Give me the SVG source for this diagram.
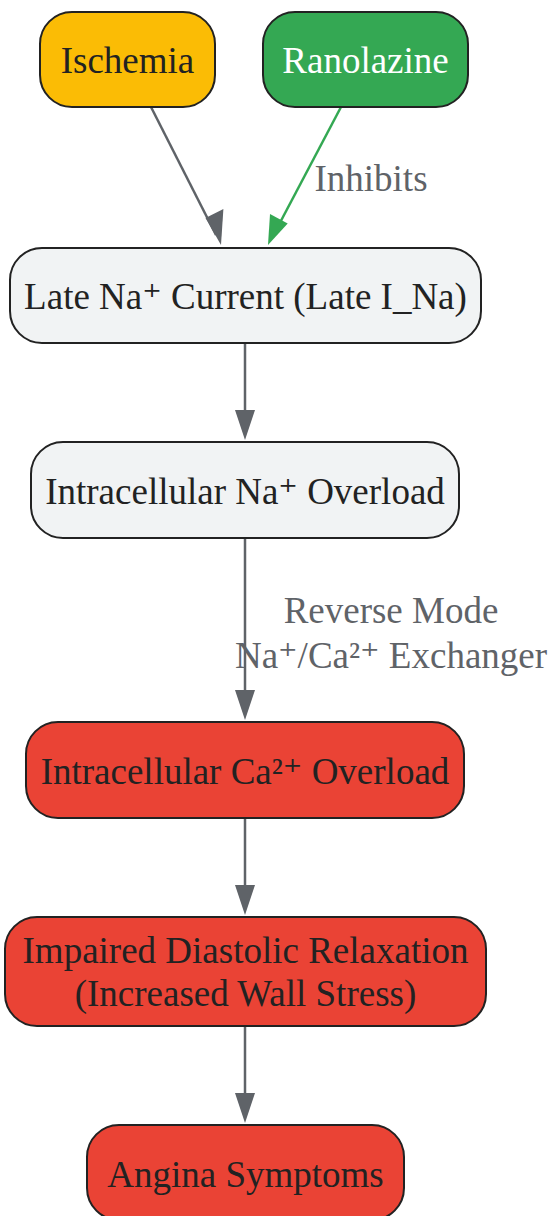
<svg xmlns="http://www.w3.org/2000/svg" width="551" height="1216" viewBox="0 0 551 1216">
<style>
.n rect{stroke:#222222;stroke-width:2}
.t{font-family:"Liberation Serif","DejaVu Serif",serif;font-size:37px;text-anchor:middle;fill:#222222}
.lbl{font-family:"Liberation Serif","DejaVu Serif",serif;font-size:37px;text-anchor:middle;fill:#5f6368}
.e{stroke:#5f6368;stroke-width:2.5;fill:none}
.g{stroke:#34a853}
</style>
<rect width="551" height="1216" fill="#ffffff"/>
<g id="connectors">
<line class="e" x1="151" y1="107" x2="216" y2="235"/>
<path d="M221,245 L205.5,218 L223.4,209 Z" fill="#5f6368"/>
<line class="e g" x1="341" y1="107" x2="274" y2="234"/>
<path d="M268,245 L270,214 L287.7,223.4 Z" fill="#34a853"/>
<text class="lbl" x="371" y="191">Inhibits</text>
<line class="e" x1="245" y1="343" x2="245" y2="412"/>
<path d="M235,410 L255,410 L245,440 Z" fill="#5f6368"/>
<line class="e" x1="245" y1="538" x2="245" y2="692"/>
<path d="M235,690 L255,690 L245,720 Z" fill="#5f6368"/>
<text class="lbl" x="391" y="623">Reverse Mode</text>
<text class="lbl" x="391" y="668">Na⁺/Ca²⁺ Exchanger</text>
<line class="e" x1="245" y1="818" x2="245" y2="887"/>
<path d="M235,885 L255,885 L245,915 Z" fill="#5f6368"/>
<line class="e" x1="245" y1="1026" x2="245" y2="1095"/>
<path d="M235,1093 L255,1093 L245,1123 Z" fill="#5f6368"/>
</g>
<g id="ischemia" class="n"><rect x="40" y="12" width="175" height="95" rx="32" fill="#fbbc05"/><text class="t" x="127.5" y="73">Ischemia</text></g>
<g id="ranolazine" class="n"><rect x="263" y="12" width="205" height="95" rx="32" fill="#34a853"/><text class="t" x="365.5" y="73" style="fill:#ffffff">Ranolazine</text></g>
<g id="late-na" class="n"><rect x="10" y="248" width="471" height="95" rx="32" fill="#f1f3f4"/><text class="t" x="245.5" y="309">Late Na⁺ Current (Late I_Na)</text></g>
<g id="na-overload" class="n"><rect x="31" y="442" width="428" height="96" rx="32" fill="#f1f3f4"/><text class="t" x="245" y="503.5">Intracellular Na⁺ Overload</text></g>
<g id="ca-overload" class="n"><rect x="26" y="722" width="438" height="96" rx="32" fill="#ea4335"/><text class="t" x="245" y="783.5">Intracellular Ca²⁺ Overload</text></g>
<g id="diastolic" class="n"><rect x="5" y="917" width="481" height="109" rx="32" fill="#ea4335"/><text class="t" x="245.5" y="963">Impaired Diastolic Relaxation</text><text class="t" x="245.5" y="1006">(Increased Wall Stress)</text></g>
<g id="angina" class="n"><rect x="87" y="1125" width="317" height="95" rx="32" fill="#ea4335"/><text class="t" x="245.5" y="1187">Angina Symptoms</text></g>
</svg>
